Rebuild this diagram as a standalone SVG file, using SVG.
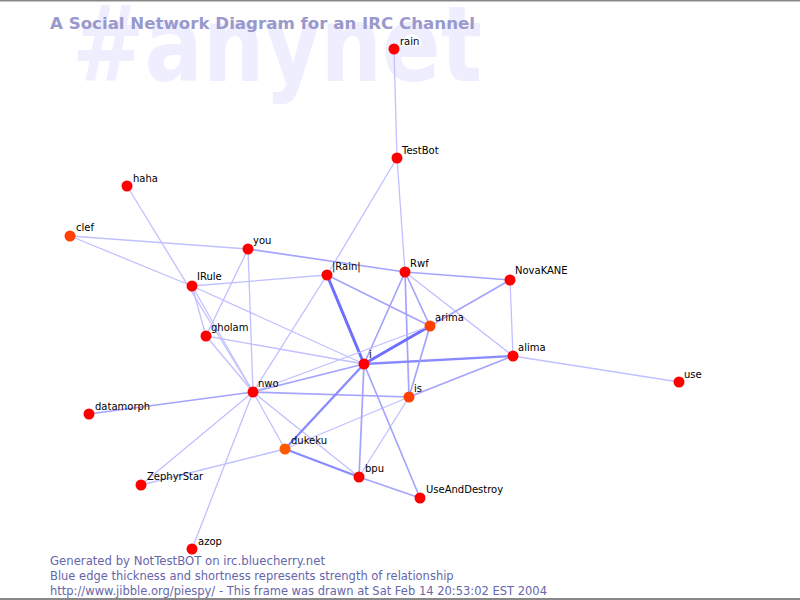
<svg xmlns="http://www.w3.org/2000/svg" width="800" height="600" viewBox="0 0 800 600">
<style>
.bg{font-family:"DejaVu Sans",sans-serif;font-weight:bold;font-size:105px;fill:#eeeeff}
.title{font-family:"DejaVu Sans",sans-serif;font-weight:bold;font-size:16px;fill:#9999cc}
.foot{font-family:"DejaVu Sans",sans-serif;font-size:11.5px;fill:#6666aa}
.lbl{font-family:"DejaVu Sans",sans-serif;font-size:10px;fill:#000}
.n{fill:#ff0000}
.o{fill:#ff4000}
.e line{stroke-linecap:round}
.w1{stroke:#c0c0ff;stroke-width:1.3}
.w2{stroke:#a4a4ff;stroke-width:1.7}
.w3{stroke:#8a8aff;stroke-width:2.3}
.w4{stroke:#6e6eff;stroke-width:3}
</style>
<rect x="0" y="0" width="800" height="600" fill="#ffffff"/>
<line x1="0" y1="0.5" x2="800" y2="0.5" stroke="#888888" stroke-width="2"/>
<line x1="0" y1="599" x2="800" y2="599" stroke="#888888" stroke-width="2"/>
<text class="bg" x="72" y="81" textLength="410" lengthAdjust="spacingAndGlyphs">#anynet</text>
<text class="title" x="50" y="29" textLength="425" lengthAdjust="spacingAndGlyphs">A Social Network Diagram for an IRC Channel</text>
<g id="edges" class="e">
<line class="w1" x1="394" y1="49" x2="397" y2="158"/>
<line class="w1" x1="397" y1="158" x2="327" y2="275"/>
<line class="w1" x1="397" y1="158" x2="405" y2="272"/>
<line class="w1" x1="127" y1="186" x2="253" y2="392"/>
<line class="w1" x1="70" y1="236" x2="248" y2="249"/>
<line class="w1" x1="70" y1="236" x2="192" y2="286"/>
<line class="w2" x1="248" y1="249" x2="405" y2="272"/>
<line class="w1" x1="248" y1="249" x2="253" y2="392"/>
<line class="w1" x1="248" y1="249" x2="206" y2="336"/>
<line class="w1" x1="192" y1="286" x2="327" y2="275"/>
<line class="w1" x1="192" y1="286" x2="206" y2="336"/>
<line class="w1" x1="192" y1="286" x2="253" y2="392"/>
<line class="w1" x1="192" y1="286" x2="364" y2="364"/>
<line class="w1" x1="206" y1="336" x2="253" y2="392"/>
<line class="w1" x1="206" y1="336" x2="364" y2="364"/>
<line class="w1" x1="327" y1="275" x2="253" y2="392"/>
<line class="w4" x1="327" y1="275" x2="364" y2="364"/>
<line class="w2" x1="327" y1="275" x2="430" y2="326"/>
<line class="w2" x1="405" y1="272" x2="510" y2="280"/>
<line class="w2" x1="405" y1="272" x2="430" y2="326"/>
<line class="w1" x1="405" y1="272" x2="513" y2="356"/>
<line class="w2" x1="405" y1="272" x2="409" y2="397"/>
<line class="w2" x1="405" y1="272" x2="364" y2="364"/>
<line class="w2" x1="510" y1="280" x2="430" y2="326"/>
<line class="w1" x1="510" y1="280" x2="513" y2="356"/>
<line class="w3" x1="513" y1="356" x2="364" y2="364"/>
<line class="w2" x1="513" y1="356" x2="409" y2="397"/>
<line class="w1" x1="513" y1="356" x2="679" y2="382"/>
<line class="w2" x1="430" y1="326" x2="409" y2="397"/>
<line class="w4" x1="430" y1="326" x2="364" y2="364"/>
<line class="w2" x1="253" y1="392" x2="89" y2="414"/>
<line class="w1" x1="253" y1="392" x2="141" y2="485"/>
<line class="w1" x1="253" y1="392" x2="192" y2="549"/>
<line class="w1" x1="253" y1="392" x2="285" y2="449"/>
<line class="w1" x1="253" y1="392" x2="359" y2="477"/>
<line class="w2" x1="253" y1="392" x2="409" y2="397"/>
<line class="w2" x1="253" y1="392" x2="364" y2="364"/>
<line class="w1" x1="253" y1="392" x2="430" y2="326"/>
<line class="w1" x1="285" y1="449" x2="141" y2="485"/>
<line class="w3" x1="285" y1="449" x2="364" y2="364"/>
<line class="w3" x1="285" y1="449" x2="359" y2="477"/>
<line class="w1" x1="285" y1="449" x2="409" y2="397"/>
<line class="w2" x1="359" y1="477" x2="364" y2="364"/>
<line class="w2" x1="359" y1="477" x2="420" y2="498"/>
<line class="w1" x1="359" y1="477" x2="409" y2="397"/>
<line class="w2" x1="420" y1="498" x2="364" y2="364"/>
</g>
<g id="node-rain"><circle class="n" cx="394" cy="49" r="5.5"/><text class="lbl" x="400" y="45">rain</text></g>
<g id="node-TestBot"><circle class="n" cx="397" cy="158" r="5.5"/><text class="lbl" x="402" y="154">TestBot</text></g>
<g id="node-haha"><circle class="n" cx="127" cy="186" r="5.5"/><text class="lbl" x="133" y="182">haha</text></g>
<g id="node-clef"><circle class="o" cx="70" cy="236" r="5.5"/><text class="lbl" x="76" y="231">clef</text></g>
<g id="node-you"><circle class="n" cx="248" cy="249" r="5.5"/><text class="lbl" x="253" y="244">you</text></g>
<g id="node-Rain"><circle class="n" cx="327" cy="275" r="5.5"/><text class="lbl" x="332" y="270">|Rain|</text></g>
<g id="node-Rwf"><circle class="n" cx="405" cy="272" r="5.5"/><text class="lbl" x="410" y="267">Rwf</text></g>
<g id="node-NovaKANE"><circle class="n" cx="510" cy="280" r="5.5"/><text class="lbl" x="515" y="274">NovaKANE</text></g>
<g id="node-IRule"><circle class="n" cx="192" cy="286" r="5.5"/><text class="lbl" x="197" y="280">IRule</text></g>
<g id="node-arima"><circle class="o" cx="430" cy="326" r="5.5"/><text class="lbl" x="435" y="321">arima</text></g>
<g id="node-gholam"><circle class="n" cx="206" cy="336" r="5.5"/><text class="lbl" x="211" y="331">gholam</text></g>
<g id="node-alima"><circle class="n" cx="513" cy="356" r="5.5"/><text class="lbl" x="518" y="351">alima</text></g>
<g id="node-i"><circle class="n" cx="364" cy="364" r="5.5"/><text class="lbl" x="369" y="358">i</text></g>
<g id="node-use"><circle class="n" cx="679" cy="382" r="5.5"/><text class="lbl" x="684" y="378">use</text></g>
<g id="node-nwo"><circle class="n" cx="253" cy="392" r="5.5"/><text class="lbl" x="258" y="387">nwo</text></g>
<g id="node-is"><circle class="o" cx="409" cy="397" r="5.5"/><text class="lbl" x="414" y="392">is</text></g>
<g id="node-datamorph"><circle class="n" cx="89" cy="414" r="5.5"/><text class="lbl" x="95" y="410">datamorph</text></g>
<g id="node-dukeku"><circle fill="#ff5a00" cx="285" cy="449" r="5.5"/><text class="lbl" x="291" y="444">dukeku</text></g>
<g id="node-bpu"><circle class="n" cx="359" cy="477" r="5.5"/><text class="lbl" x="365" y="472">bpu</text></g>
<g id="node-UseAndDestroy"><circle class="n" cx="420" cy="498" r="5.5"/><text class="lbl" x="426" y="493">UseAndDestroy</text></g>
<g id="node-ZephyrStar"><circle class="n" cx="141" cy="485" r="5.5"/><text class="lbl" x="147" y="480">ZephyrStar</text></g>
<g id="node-azop"><circle class="n" cx="192" cy="549" r="5.5"/><text class="lbl" x="198" y="545">azop</text></g>
<text class="foot" x="50" y="565" textLength="275" lengthAdjust="spacingAndGlyphs">Generated by NotTestBOT on irc.bluecherry.net</text>
<text class="foot" x="50" y="580">Blue edge thickness and shortness represents strength of relationship</text>
<text class="foot" x="50" y="595">http://www.jibble.org/piespy/ - This frame was drawn at Sat Feb 14 20:53:02 EST 2004</text>
</svg>
